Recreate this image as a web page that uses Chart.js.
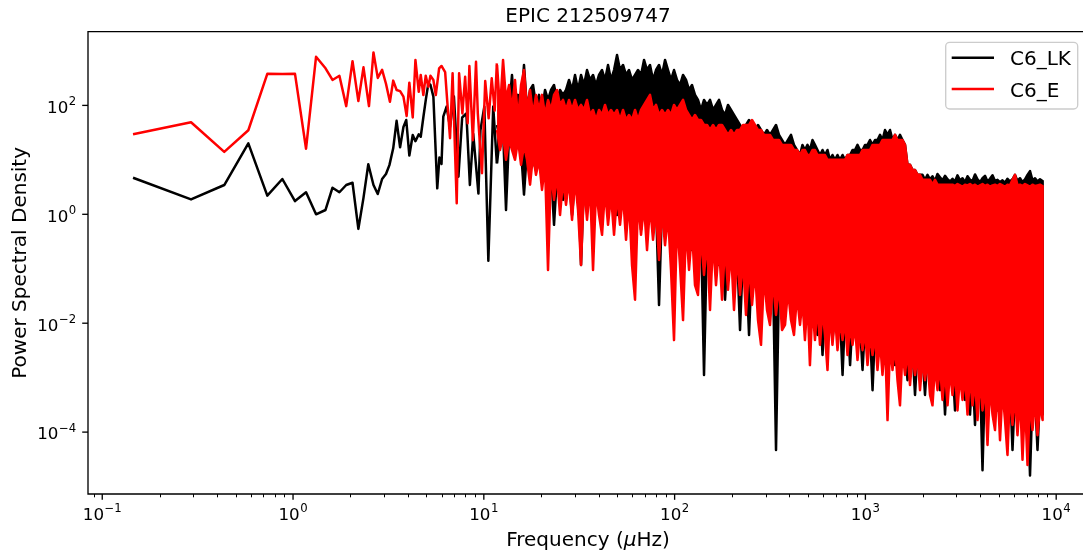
<!DOCTYPE html>
<html>
<head>
<meta charset="utf-8">
<script src="https://cdn.jsdelivr.net/npm/chart.js@4.4.1/dist/chart.umd.min.js"></script>
<style>
  html, body { margin: 0; padding: 0; background: #fff; }
</style>
</head>
<body>
<canvas id="psd" width="1083" height="555"></canvas>
<script>
// C6_LK, single bins below ~12 uHz (uHz, PSD)
const lkLowFreq = [0.145,0.292,0.436,0.583,0.733,0.879,1.024,1.17,1.32,1.48,1.61,1.75,1.90,2.05,2.20,2.34,2.48,2.64,2.78,2.93,3.07,3.20,3.35,3.49,3.64,3.79,3.92,4.07,4.24,4.38,4.56,4.67,4.82,4.97,5.12,5.25,5.44,5.70,5.85,6.00,6.13,6.38,6.65,6.97,7.36,7.70,8.10,8.45,8.80,9.37,9.60,10.06,10.56,11.2,11.7];
const lkLowPsd = [4.7,1.88,3.45,20.1,2.2,4.45,1.75,2.54,1.0,1.2,3.08,2.54,3.45,3.8,0.54,2.0,8.3,3.45,2.36,4.45,5.5,8.0,16.3,52,17,40,54,12,28.6,22,29.5,26.6,60.5,130,254,240,145,3.0,11,8.4,62,95,40,145,4.9,60,71,3.45,30,2.4,35,95,0.14,95,8.6];

// C6_E, single bins below ~12 uHz
const eLowFreq = [0.145,0.292,0.436,0.583,0.733,0.879,1.024,1.17,1.32,1.48,1.61,1.75,1.90,2.05,2.20,2.34,2.50,2.64,2.78,2.93,3.07,3.22,3.35,3.49,3.64,3.79,3.94,4.07,4.24,4.38,4.56,4.67,4.82,4.96,5.12,5.25,5.44,5.6,5.83,6.0,6.27,6.43,6.65,6.86,7.07,7.21,7.42,7.72,7.98,8.23,8.4,8.76,9.1,9.3,9.78,10.17,10.6,11.0,11.4,11.7];
const eLowPsd = [29.5,49,14,35,380,378,380,16,780,480,293,350,97,650,120,500,97,940,320,450,250,117,285,192,183,145,64,261,60,682,178,362,155,351,220,351,293,155,480,530,407,120,25,388,13,1.6,388,71,336,47,530,23,635,71,5.7,280,58,314,80,590];

// above ~12 uHz the bins are too dense to separate: the upper and lower
// edge of each band, read at these frequencies (uHz)
const denseFreq = [11.73,12.16,12.61,13.07,13.56,14.05,14.57,15.11,15.67,16.24,
  16.84,17.47,18.11,18.77,19.47,20.18,20.93,21.70,22.50,23.33,
  24.19,25.08,26.01,26.97,27.96,29.00,30.06,31.17,32.32,33.51,
  34.75,36.03,37.36,38.73,40.16,41.65,43.18,44.77,46.42,48.14,
  49.91,51.75,53.66,55.64,57.68,59.81,62.02,64.30,66.67,69.13,
  71.68,74.32,77.06,79.90,82.85,85.90,89.07,92.35,95.75,99.29,
  102.9,106.7,110.7,114.8,119.0,123.4,127.9,132.6,137.5,142.6,
  147.9,153.3,159.0,164.8,170.9,177.2,183.8,190.5,197.6,204.8,
  212.4,220.2,228.3,236.7,245.5,254.5,263.9,273.6,283.7,294.2,
  305.0,316.2,327.9,340.0,352.5,365.5,379.0,392.9,407.4,422.4,
  438.0,454.1,
  468,482,497,512,528,544,561,578,596,614,
  633,652,672,693,714,736,759,782,806,831,
  856,882,909,937,966,995,1026,1057,1090,1123,
  1157,1193,1229,1267,1306,1346,1387,1430,1473,1518,
  1565,1613,1662,1713,1766,1820,1876,1933,1992,2053,
  2116,2181,2247,2317,2387,2460,2536,2614,2694,2776,
  2861,2949,3039,3132,3228,3327,3429,3534,3642,3754,
  3869,3988,4110,4236,4365,4498,4637,4778,4925,5076,
  5231,5392,5556,5727,5902,6083,6269,6462,6659,6864,
  7073,7291,7514,7745,7980,8227,8478,8496];

const lkTopPsd = [43.7,23.2,54,35.4,82.5,362,66.7,156,102,553,
  82.5,192,237,102,156,82.5,192,126,192,237,
  126,192,156,192,293,192,362,192,362,237,
  447,293,362,237,362,447,293,553,293,447,
  843,447,553,362,447,293,362,447,362,683,
  447,553,293,447,553,362,683,447,293,447,
  293,237,362,293,192,237,156,126,82.5,126,
  102,126,82.5,102,126,82.5,66.7,102,82.5,66.7,
  54,43.7,35.4,43.7,54,43.7,35.4,43.7,35.4,28.7,
  35.4,28.7,35.4,43.7,28.7,23.2,18.8,23.2,28.7,18.8,
  15.2,12.3,
  18.8,15.2,18.8,15.2,23.2,18.8,15.2,12.3,15.2,12.3,
  15.2,10,12.3,10,12.3,10,12.3,10,12.3,12.3,
  15.2,15.2,18.8,15.2,15.2,18.8,18.8,23.2,18.8,23.2,
  23.2,28.7,23.2,35.4,28.7,35.4,23.2,28.7,23.2,28.7,
  23.2,18.8,8.1,8.1,6.5,6.5,5.3,5.3,5.3,4.3,
  5.3,4.4,5.0,4.1,5.5,4.8,4.2,5.1,4.4,4.0,
  4.5,4.0,5.2,4.2,4.6,3.9,5.0,4.3,4.1,5.4,
  4.4,3.9,4.6,5.1,4.0,4.5,5.2,4.1,4.3,3.9,
  4.2,3.8,4.5,4.0,4.4,5.3,4.1,4.6,3.9,4.4,
  5.3,6.2,4.2,4.6,4.0,4.4,4.1,3.6];
const lkBotPsd = [8.6,28.7,35.4,1.2,28.7,23.2,23.2,18.8,15.2,2.3,
  15.2,12.3,10,6.5,10,8.1,6.5,6.5,6.5,0.64,
  5.3,5.3,1.84,5.3,4.3,0.97,4.3,4.3,0.117,4.3,
  3.5,1.49,3.5,3.5,3.5,3.5,3.5,2.8,2.8,2.8,
  0.97,2.8,2.8,2.3,2.3,2.3,2.3,2.3,0.52,1.84,
  0.64,1.84,1.84,1.49,0.0216,1.49,1.49,1.2,0.34,1.2,
  0.97,0.97,0.79,0.79,0.64,0.22,0.64,0.52,0.52,0.00112,
  0.42,0.42,0.42,0.34,0.117,0.34,0.027,0.27,0.27,0.22,
  0.22,0.0075,0.18,0.145,0.0061,0.145,0.117,0.117,0.095,0.095,
  0.077,0.077,0.077,0.000047,0.062,0.05,0.05,0.05,0.041,0.041,
  0.041,0.033,
  0.033,0.0075,0.033,0.027,0.027,0.027,0.0061,0.027,0.0026,0.0216,
  0.0216,0.0216,0.0049,0.0175,0.0175,0.0142,0.00112,0.0142,0.0142,0.0017,
  0.0114,0.0114,0.0114,0.0093,0.00138,0.0093,0.0093,0.0075,0.00059,0.0075,
  0.0075,0.0061,0.0061,0.0021,0.0061,0.0049,0.0049,0.0017,0.0049,0.004,
  0.004,0.004,0.0009,0.0032,0.0032,0.00048,0.0032,0.0026,0.0026,0.00048,
  0.0026,0.0026,0.0021,0.0021,0.0021,0.00059,0.0021,0.00021,0.0017,0.0017,
  0.0017,0.00025,0.0017,0.00138,0.00138,0.00039,0.00138,0.00021,0.00138,0.000135,
  0.00138,0.00112,0.00002,0.00112,0.0009,0.0009,0.0009,0.0009,0.00025,0.0009,
  0.00073,0.00073,0.00073,0.00073,0.000047,0.00059,0.00059,0.00021,0.00059,0.00059,
  0.00048,0.000016,0.00048,0.00048,0.000047,0.00048,0.00039,0.00021];

const eTopPsd = [553,82.5,683,126,237,82.5,293,54,237,447,
  82.5,192,66.7,156,82.5,156,66.7,126,82.5,156,
  192,102,126,82.5,126,82.5,126,82.5,102,82.5,
  126,66.7,82.5,54,82.5,66.7,102,66.7,82.5,66.7,
  82.5,54,82.5,54,66.7,54,82.5,54,82.5,102,
  126,156,82.5,102,66.7,82.5,66.7,82.5,66.7,102,
  82.5,102,126,82.5,66.7,54,66.7,54,54,43.7,
  43.7,35.4,43.7,35.4,43.7,43.7,35.4,28.7,35.4,28.7,
  35.4,35.4,43.7,43.7,43.7,54,43.7,35.4,35.4,28.7,
  28.7,28.7,23.2,23.2,23.2,18.8,18.8,18.8,18.8,15.2,
  15.2,12.3,
  15.2,15.2,12.3,12.3,15.2,15.2,12.3,12.3,12.3,12.3,
  10,10,10,10,10,10,10,10,12.3,12.3,
  12.3,12.3,12.3,12.3,15.2,15.2,15.2,15.2,18.8,18.8,
  18.8,18.8,23.2,23.2,23.2,23.2,23.2,28.7,23.2,23.2,
  23.2,18.8,8.1,8.1,6.5,6.5,5.3,5.3,4.3,4.3,
  4.3,4.3,3.5,4.3,3.5,3.5,3.5,3.5,3.5,3.5,
  3.5,3.3,3.6,3.4,3.2,3.5,3.4,3.6,3.3,3.5,3.2,3.4,3.6,3.3,3.5,3.2,3.4,3.5,3.3,3.6,3.4,3.2,3.5,3.4,
  4.3,5.3,
  3.4,3.5,3.3,3.6,3.4,3.2,3.5,3.3,3.4,3.5,3.3,
  2.8];
const eBotPsd = [35.4,15.2,28.7,10,23.2,15.2,10,23.2,8.1,18.8,
  10,3.5,12.3,5.3,10,2.8,8.1,0.095,6.5,1.84,
  5.3,0.97,4.3,1.49,4.3,0.79,4.3,1.2,0.117,3.5,
  0.79,3.5,0.095,2.8,0.97,0.42,2.8,0.64,2.3,0.42,
  2.3,0.64,2.3,0.34,1.84,0.117,0.027,1.84,0.42,1.49,
  0.22,1.49,0.34,1.2,0.145,1.2,0.27,0.97,0.095,0.0049,
  0.79,0.117,0.0114,0.64,0.095,0.52,0.05,0.033,0.42,0.077,
  0.34,0.0175,0.34,0.05,0.27,0.027,0.27,0.041,0.22,0.0175,
  0.18,0.033,0.145,0.0142,0.117,0.0216,0.095,0.0114,0.004,0.077,
  0.0175,0.0093,0.062,0.0142,0.05,0.0075,0.0093,0.041,0.0114,0.0061,
  0.033,0.0093,
  0.027,0.0049,0.027,0.0017,0.0216,0.0049,0.0216,0.004,0.0175,0.0061,
  0.00138,0.0175,0.004,0.0142,0.0032,0.0114,0.0049,0.0114,0.0026,0.0093,
  0.004,0.0093,0.0021,0.0075,0.0032,0.0075,0.0017,0.0061,0.0026,0.0061,
  0.00138,0.0049,0.00112,0.0049,0.000166,0.004,0.00138,0.004,0.0009,0.00031,
  0.0032,0.00112,0.0032,0.00073,0.0026,0.00112,0.0026,0.00059,0.0021,0.0009,
  0.0021,0.00048,0.00031,0.0017,0.00059,0.0017,0.00039,0.00138,0.00031,0.00138,
  0.00048,0.00138,0.00025,0.00112,0.00039,0.00112,0.00021,0.00112,0.00031,0.0009,
  0.000166,0.0009,0.00025,0.00073,0.000058,0.00073,0.00021,0.000109,0.00073,0.000071,
  0.00059,0.000166,0.000038,0.00059,0.000135,0.00048,0.000088,0.00048,0.000031,0.00039,
  0.000025,0.00039,0.000109,0.00039,0.000088,0.00031,0.000166,0.00021];

const seriesNames = ["C6_LK", "C6_E"];
const seriesColors = ["#000000", "#ff0000"];
const xTickExp = [-1, 0, 1, 2, 3, 4];
const yTickExp = [-4, -2, 0, 2];

const FONT = "'DejaVu Sans', 'Liberation Sans', sans-serif";

const toPoints = (fs, vs) => fs.map((f, i) => ({ x: f, y: vs[i] }));
// band outline: along the top edge, then back along the bottom edge
const band = (top, bot) => toPoints(denseFreq, top).concat(toPoints(denseFreq, bot).reverse());

const lineDs = (label, color, data, order) => ({
  label, data, order,
  borderColor: color,
  backgroundColor: color,
  borderWidth: 2.5,
  borderJoinStyle: "round",
  pointRadius: 0,
  showLine: true,
  fill: false,
});

const bandDs = (label, color, data, order) => ({
  ...lineDs(label, color, data, order),
  fill: "shape",
});

const supLabel = (ctx, exp, x, y, align) => {
  const base = "10";
  const sup = exp < 0 ? "\u2212" + (-exp) : String(exp);
  ctx.font = `16.7px ${FONT}`;
  const wb = ctx.measureText(base).width;
  ctx.font = `11.7px ${FONT}`;
  const ws = ctx.measureText(sup).width;
  const total = wb + ws + 0.5;
  const left = align === "center" ? x - total / 2 : x - total;
  ctx.textAlign = "left";
  ctx.textBaseline = "alphabetic";
  ctx.font = `16.7px ${FONT}`;
  ctx.fillText(base, left, y);
  ctx.font = `11.7px ${FONT}`;
  ctx.fillText(sup, left + wb + 0.5, y - 7.6);
};

const frame = {
  id: "frame",
  afterDraw(chart) {
    const { ctx, chartArea: a } = chart;
    const sx = chart.scales.x;
    const sy = chart.scales.y;
    ctx.save();
    ctx.fillStyle = "#000";
    ctx.strokeStyle = "#000";

    // spines (the right one falls outside the figure)
    ctx.lineWidth = 1.33;
    ctx.beginPath();
    ctx.moveTo(a.right + 6, a.top);
    ctx.lineTo(a.left, a.top);
    ctx.lineTo(a.left, a.bottom);
    ctx.lineTo(a.right + 6, a.bottom);
    ctx.stroke();

    // x minor ticks
    ctx.lineWidth = 1;
    for (let e = -2; e <= 4; e++) {
      for (let m = 2; m <= 9; m++) {
        const v = m * Math.pow(10, e);
        if (v < sx.min || v > sx.max) continue;
        const px = Math.round(sx.getPixelForValue(v)) + 0.5;
        ctx.beginPath();
        ctx.moveTo(px, a.bottom);
        ctx.lineTo(px, a.bottom + 3.3);
        ctx.stroke();
      }
    }
    // x major ticks + labels
    ctx.lineWidth = 1.33;
    xTickExp.forEach((e) => {
      const px = sx.getPixelForValue(Math.pow(10, e));
      ctx.beginPath();
      ctx.moveTo(px, a.bottom);
      ctx.lineTo(px, a.bottom + 5.8);
      ctx.stroke();
      supLabel(ctx, e, px, a.bottom + 26, "center");
    });
    // y major ticks + labels
    yTickExp.forEach((e) => {
      const py = sy.getPixelForValue(Math.pow(10, e));
      ctx.beginPath();
      ctx.moveTo(a.left, py);
      ctx.lineTo(a.left - 5.8, py);
      ctx.stroke();
      supLabel(ctx, e, a.left - 11.8, py + 7.3, "right");
    });

    // title
    const cx = a.left + 500;
    ctx.font = `20px ${FONT}`;
    ctx.textAlign = "center";
    ctx.textBaseline = "alphabetic";
    ctx.fillText("EPIC 212509747", cx, 22);

    // x label with italic mu
    const p1 = "Frequency (", p2 = "\u03bc", p3 = "Hz)";
    ctx.font = `20px ${FONT}`;
    const w1 = ctx.measureText(p1).width, w3 = ctx.measureText(p3).width;
    ctx.font = `italic 20px ${FONT}`;
    const w2 = ctx.measureText(p2).width;
    const lx = cx - (w1 + w2 + w3) / 2;
    ctx.textAlign = "left";
    ctx.font = `20px ${FONT}`;
    ctx.fillText(p1, lx, 546);
    ctx.font = `italic 20px ${FONT}`;
    ctx.fillText(p2, lx + w1, 546);
    ctx.font = `20px ${FONT}`;
    ctx.fillText(p3, lx + w1 + w2, 546);

    // y label
    ctx.save();
    ctx.translate(25.5, (a.top + a.bottom) / 2);
    ctx.rotate(-Math.PI / 2);
    ctx.textAlign = "center";
    ctx.font = `20px ${FONT}`;
    ctx.fillText("Power Spectral Density", 0, 0);
    ctx.restore();

    // legend
    const bx = 945.7, by = 42.3, bw = 132, bh = 66.7, r = 4;
    ctx.beginPath();
    ctx.moveTo(bx + r, by);
    ctx.arcTo(bx + bw, by, bx + bw, by + bh, r);
    ctx.arcTo(bx + bw, by + bh, bx, by + bh, r);
    ctx.arcTo(bx, by + bh, bx, by, r);
    ctx.arcTo(bx, by, bx + bw, by, r);
    ctx.closePath();
    ctx.fillStyle = "rgba(255,255,255,0.8)";
    ctx.fill();
    ctx.strokeStyle = "#cccccc";
    ctx.lineWidth = 1.33;
    ctx.stroke();
    seriesNames.forEach((name, i) => {
      const ry = 57.7 + i * 31.3;
      ctx.strokeStyle = seriesColors[i];
      ctx.lineWidth = 2.5;
      ctx.beginPath();
      ctx.moveTo(951.7, ry);
      ctx.lineTo(994, ry);
      ctx.stroke();
      ctx.fillStyle = "#000";
      ctx.font = `20px ${FONT}`;
      ctx.textAlign = "left";
      ctx.fillText(name, 1010, ry + 7.5);
    });
    ctx.restore();
  },
};

new Chart(document.getElementById("psd"), {
  type: "scatter",
  data: {
    datasets: [
      lineDs(seriesNames[1], seriesColors[1], toPoints(eLowFreq, eLowPsd), 1),
      bandDs(seriesNames[1], seriesColors[1], band(eTopPsd, eBotPsd), 1),
      lineDs(seriesNames[0], seriesColors[0], toPoints(lkLowFreq, lkLowPsd), 2),
      bandDs(seriesNames[0], seriesColors[0], band(lkTopPsd, lkBotPsd), 2),
    ],
  },
  options: {
    responsive: false,
    animation: false,
    events: [],
    layout: { padding: { left: 88, top: 31.7, right: 0, bottom: 61 } },
    plugins: { legend: { display: false }, tooltip: { enabled: false } },
    scales: {
      x: { type: "logarithmic", display: false, min: 0.0842, max: 13820 },
      y: { type: "logarithmic", display: false, min: 7.3e-6, max: 2257 },
    },
  },
  plugins: [frame],
});
</script>
</body>
</html>
